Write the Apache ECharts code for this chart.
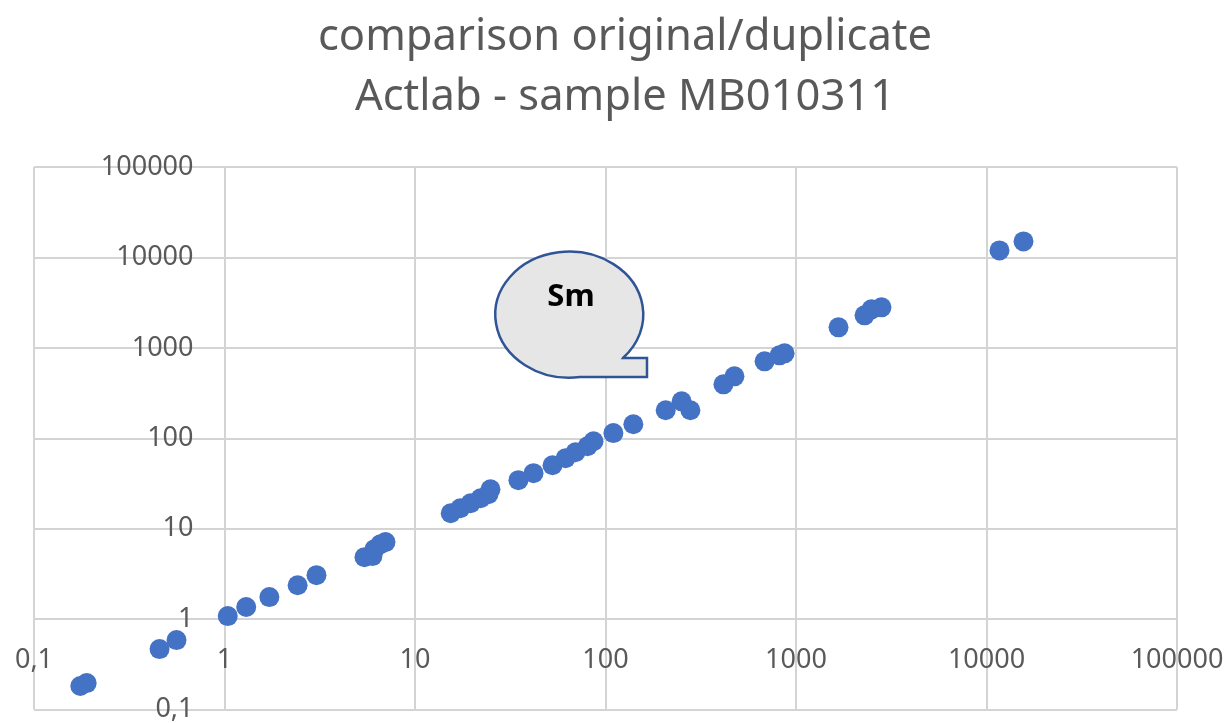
<!DOCTYPE html>
<html>
<head>
<meta charset="utf-8">
<title>comparison original/duplicate</title>
<script src="https://cdn.jsdelivr.net/npm/echarts@6/dist/echarts.min.js"></script>
<style>
  html, body { margin: 0; padding: 0; background: #ffffff; }
  #chart { width: 1228px; height: 723px; }
</style>
</head>
<body>
<div id="chart"></div>
<script>
// original value (x) vs duplicate value (y)
const original = [
  0.175, 0.189, 0.456, 0.560, 1.04, 1.30, 1.72, 2.42, 3.04,
  5.43, 5.98, 6.13, 6.59, 7.0,
  15.4, 17.3, 19.6, 22.1, 24.3, 24.9, 34.9, 41.9, 52.7, 61.7, 69.6, 80.5, 86.5,
  110, 140, 207, 251, 279, 416, 475, 684, 819, 871,
  1672, 2290, 2490, 2810, 11700, 15640
]
const duplicate = [
  0.182, 0.196, 0.466, 0.586, 1.08, 1.36, 1.75, 2.37, 3.06,
  4.84, 4.97, 5.93, 6.74, 7.1,
  14.8, 16.8, 19.1, 21.7, 24.0, 27.3, 34.4, 41.1, 50.3, 60.1, 70.0, 81.6, 92.7,
  114, 143, 204, 256, 204, 395, 484, 709, 826, 869,
  1686, 2286, 2663, 2803, 11950, 15020
]
const axisMin = 0.1
const axisMax = 100000
const titleLines = ['comparison original/duplicate', 'Actlab - sample MB010311']
const calloutText = 'Sm'

const points = original.map(function (x, i) {
  return [x, duplicate[i]]
})

function fmt (v) {
  return String(+v.toPrecision(6)).replace('.', ',')
}

// oval speech bubble with its tail at the lower right
const Bubble = echarts.graphic.extendPath(
  'M 623 358 L 647 358 L 647 377 L 580 377 A 74 63 0 1 1 623 358 Z', {}
)
echarts.graphic.registerShape('bubble', Bubble)

const chart = echarts.init(document.getElementById('chart'))
const option = {
  animation: false,
  title: {
    text: titleLines.join('\n'),
    left: 620,
    textAlign: 'center',
    top: 3,
    textStyle: {
      fontFamily: 'Noto Sans',
      fontSize: 43.5,
      fontWeight: 'normal',
      color: '#595959',
      lineHeight: 60
    }
  },
  grid: {
    left: 34,
    top: 167,
    right: 51,
    bottom: 13
  },
  xAxis: {
    type: 'log',
    logBase: 10,
    min: axisMin,
    max: axisMax,
    position: 'bottom',
    offset: -90.5,
    axisLine: { show: false },
    axisTick: { show: false },
    axisLabel: {
      margin: 28,
      fontFamily: 'Noto Sans',
      fontSize: 27,
      color: '#595959',
      formatter: fmt
    },
    splitLine: { lineStyle: { color: '#d4d4d4', width: 2 } }
  },
  yAxis: {
    type: 'log',
    logBase: 10,
    min: axisMin,
    max: axisMax,
    position: 'left',
    offset: -190.5,
    axisLine: { show: false },
    axisTick: { show: false },
    axisLabel: {
      margin: 31,
      fontFamily: 'Noto Sans',
      fontSize: 27,
      color: '#595959',
      formatter: fmt
    },
    splitLine: { lineStyle: { color: '#d4d4d4', width: 2 } }
  },
  graphic: [
    {
      type: 'bubble',
      z: 10,
      style: {
        fill: '#e7e6e6',
        stroke: '#2f5597',
        lineWidth: 2.5
      }
    },
    {
      type: 'text',
      z: 11,
      x: 571,
      y: 297,
      style: {
        text: calloutText,
        fontFamily: 'Noto Sans',
        fontSize: 31,
        fontWeight: 'bold',
        fill: '#000000',
        align: 'center',
        verticalAlign: 'middle'
      }
    }
  ],
  series: [{
    type: 'scatter',
    data: points,
    symbolSize: 20,
    itemStyle: { color: '#4472c4', opacity: 1 }
  }]
}
chart.setOption(option)
</script>
</body>
</html>
